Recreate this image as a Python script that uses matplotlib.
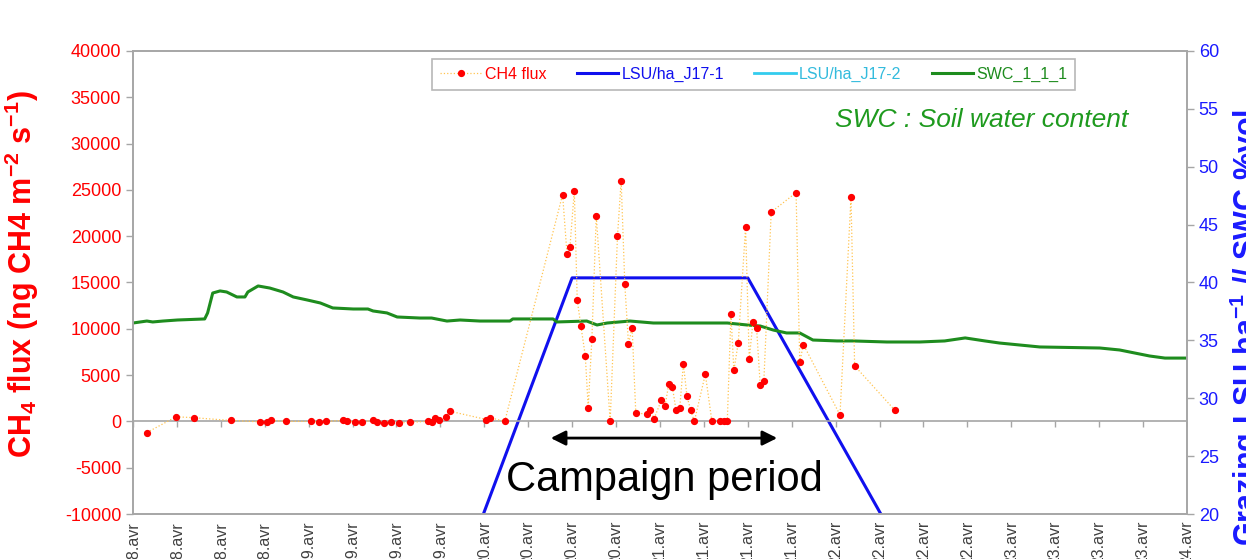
import matplotlib

matplotlib.use("Agg")
import matplotlib.pyplot as plt
from matplotlib.markers import TICKDOWN

plt.rcParams["font.family"] = ["Liberation Sans", "DejaVu Sans"]
plt.rcParams["axes.unicode_minus"] = False
plt.rcParams["mathtext.default"] = "regular"

# ------------------------------------------------------------
# Data (time in hours since 18 avr 00:00)
# ------------------------------------------------------------
tick_hours = list(range(0, 145, 6))
tick_labels = (["18.avr"] * 4 + ["19.avr"] * 4 + ["20.avr"] * 4 + ["21.avr"] * 4
               + ["22.avr"] * 4 + ["23.avr"] * 4 + ["24.avr"])

# CH4 flux (ng CH4 m-2 s-1)
flux_hours = [1.9, 5.9, 8.3, 13.4, 17.4, 18.3, 18.9, 20.9, 24.3, 25.4, 26.4,
              28.7, 29.3, 30.3, 31.3, 32.8, 33.3, 34.3, 35.3, 36.3, 37.8,
              40.3, 40.8, 41.3, 41.8, 42.8, 43.3, 48.3, 48.8, 50.8,
              58.7, 59.3, 59.7, 60.3, 60.7, 61.2, 61.8, 62.2, 62.7, 63.3,
              65.2, 66.2, 66.7, 67.2, 67.7, 68.2, 68.7, 70.2, 70.7, 71.2,
              72.2, 72.7, 73.2, 73.7, 74.2, 74.7, 75.2, 75.7, 76.2, 76.7,
              78.2, 79.1, 80.2, 80.7, 81.2, 81.7, 82.1, 82.7, 83.7, 84.2,
              84.7, 85.2, 85.7, 86.2, 87.2, 90.6, 91.1, 91.6, 96.6, 98.1,
              98.6, 104.1]
flux_values = [-1200, 500, 400, 100, -50, -100, 100, 0, 0, -50, 0,
               100, 0, -50, -50, 100, -50, -150, -50, -150, -100,
               0, -100, 400, 200, 500, 1100, 200, 400, 0,
               24500, 18100, 18800, 24900, 13100, 10300, 7100, 1500, 8900, 22200,
               0, 20000, 26000, 14800, 8400, 10100, 900, 800, 1200, 300,
               2300, 1700, 4000, 3700, 1200, 1400, 6200, 2700, 1200, 0,
               5100, 0, 0, 0, 0, 11600, 5500, 8500, 21000, 6700,
               10700, 10100, 3900, 4400, 22600, 24700, 6400, 8300, 700, 24200,
               6000, 1200]

# Grazing (LSU/ha)
lsu1_hours = [36, 60, 84, 120]
lsu1_values = [0, 40.4, 40.4, 0]
lsu2_hours = [0, 144]
lsu2_values = [0, 0]

# Soil water content (%vol)
swc_hours = [0, 1.9, 2.7, 4.1, 6.1, 9.8, 10.2, 10.9, 11.9, 12.8, 14.2, 15.3,
             15.7, 17.1, 18.7, 20.5, 21.9, 23.8, 25.6, 27.3, 30.1, 32.1, 32.8,
             34.7, 36.1, 39.2, 40.8, 42.9, 44.7, 47.4, 51.5, 51.9, 57.4, 57.9,
             62.0, 63.4, 64.8, 67.9, 71.1, 75.7, 81.2, 83.9, 85.7, 87.5, 89.3,
             91.1, 92.9, 96.2, 98.4, 103.0, 107.5, 110.9, 113.7, 116.4, 118.4,
             123.9, 132.1, 134.8, 138.9, 141.0, 144.0]
swc_values = [36.50, 36.67, 36.59, 36.67, 36.76, 36.85, 37.37, 39.09, 39.27,
              39.18, 38.75, 38.75, 39.18, 39.70, 39.52, 39.18, 38.75, 38.49,
              38.23, 37.80, 37.71, 37.71, 37.54, 37.37, 37.02, 36.93, 36.93,
              36.67, 36.76, 36.67, 36.67, 36.85, 36.85, 36.59, 36.67, 36.33,
              36.50, 36.67, 36.50, 36.50, 36.50, 36.33, 36.24, 35.89, 35.64,
              35.64, 35.03, 34.95, 34.95, 34.86, 34.86, 34.95, 35.21, 34.95,
              34.77, 34.43, 34.34, 34.17, 33.65, 33.47, 33.47]

campaign_start = 56.7
campaign_end = 88.4

GRAY = "#a6a6a6"

# ------------------------------------------------------------
# Figure
# ------------------------------------------------------------
fig = plt.figure(figsize=(12.46, 5.59), dpi=100)
ax = fig.add_axes([0.1067, 0.0805, 0.8459, 0.8283])
ax2 = ax.twinx()

ax2.plot(lsu2_hours, lsu2_values, color="#33ccee", linewidth=2,
         label="LSU/ha_J17-2")
ax2.plot(lsu1_hours, lsu1_values, color="#1010ee", linewidth=2.2,
         label="LSU/ha_J17-1")
ax2.plot(swc_hours, swc_values, color="#1e8c1e", linewidth=2.2,
         label="SWC_1_1_1")

ax.axhline(0, color=GRAY, linewidth=1.2, zorder=1)
ax.plot(tick_hours, [0] * len(tick_hours), linestyle="none",
        marker=TICKDOWN, color=GRAY, markersize=4, zorder=1)
ax.plot(flux_hours, flux_values, linestyle=":", color="#ffc451",
        linewidth=0.9, marker="o", markersize=4.2, markerfacecolor="red",
        markeredgecolor="red", label="CH4 flux", zorder=3)

ax.set_zorder(ax2.get_zorder() + 1)
ax.patch.set_visible(False)

ax.set_xlim(0, 144)
ax.set_ylim(-10000, 40000)
ax2.set_ylim(20, 60)

ax.set_xticks(tick_hours)
ax.set_xticklabels(tick_labels, rotation=90, fontsize=11.5, color="#404040")
ax.tick_params(axis="x", length=0, pad=5)

ax.set_yticks(range(-10000, 40001, 5000))
ax.tick_params(axis="y", color=GRAY, labelcolor="#ff0000", labelsize=13,
               length=5, width=1)
ax2.set_yticks(range(20, 61, 5))
ax2.tick_params(axis="y", color=GRAY, labelcolor="#1a1aff", labelsize=13,
                length=5, width=1)

for a in (ax, ax2):
    for sp in a.spines.values():
        sp.set_color(GRAY)
        sp.set_linewidth(1.2)

# axis titles
fig.text(0.002, 0.51, r"CH$_4$ flux (ng CH4 m$^{-2}$ s$^{-1}$)",
         rotation=90, ha="left", va="center", color="#ff0000",
         fontsize=22, fontweight="bold")
fig.text(0.9856, 0.415, r"Grazing LSU ha$^{-1}$ // SWC %vol",
         rotation=90, ha="left", va="center", color="#1a1aff",
         fontsize=22, fontweight="bold")

# legend
h1, l1 = ax.get_legend_handles_labels()
h2, l2 = ax2.get_legend_handles_labels()
hd = dict(zip(l1 + l2, h1 + h2))
order = ["CH4 flux", "LSU/ha_J17-1", "LSU/ha_J17-2", "SWC_1_1_1"]
leg = ax.legend([hd[k] for k in order], order, loc="center",
                bbox_to_anchor=(0.589, 0.95), ncol=4, fontsize=11.5,
                frameon=True, fancybox=False, edgecolor=GRAY,
                handlelength=2.6, columnspacing=1.9, handletextpad=0.2,
                borderpad=0.5)
leg.get_frame().set_linewidth(1.2)
for txt, col in zip(leg.get_texts(), ["#ff0000", "#1010ee", "#33bbdd", "#1e8c1e"]):
    txt.set_color(col)

# annotations
ax.text(0.805, 0.851, "SWC : Soil water content", transform=ax.transAxes,
        ha="center", va="center", color="#1e9a1e", fontsize=19,
        fontstyle="italic")
ax.annotate("", xy=(campaign_end, -1800), xytext=(campaign_start, -1800),
            arrowprops=dict(arrowstyle="<|-|>", color="black", lw=2,
                            mutation_scale=22), zorder=5)
ax.text((campaign_start + campaign_end) / 2, -6300, "Campaign period",
        ha="center", va="center", color="black", fontsize=30, zorder=5)

fig.savefig("out.png", dpi=100)
